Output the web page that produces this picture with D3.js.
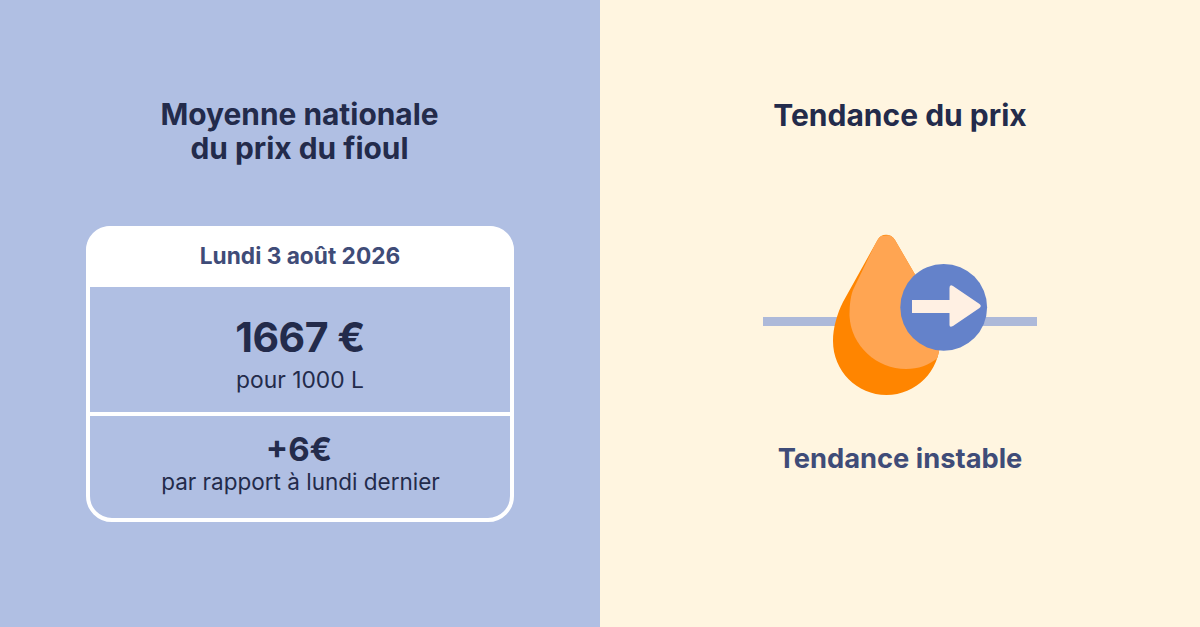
<!DOCTYPE html>
<html>
<head>
<meta charset="utf-8">
<script src="https://d3js.org/d3.v7.min.js"></script>
<style>
  html, body { margin: 0; padding: 0; overflow: hidden; }
  svg { display: block; }
  text { text-anchor: middle; }
</style>
</head>
<body>
<div id="chart"></div>
<script>
var titleLeft = ["Moyenne nationale", "du prix du fioul"];
var titleRight = ["Tendance du prix"];
var dateLabel = ["Lundi 3 août 2026"];
var priceValues = [1667];
var volumeValues = [1000];
var changeValues = [6];
var changeLabel = ["par rapport à lundi dernier"];
var trendLabel = ["Tendance instable"];

var width = 1200,
    height = 627;

var dark = "#232b4b", mid = "#3f4c78", blueBg = "#b0bfe3", creamBg = "#fff5e0";

var svg = d3.select("#chart")
    .append("svg")
    .attr("width", width)
    .attr("height", height);

// backgrounds
svg.append("rect").attr("width", 600).attr("height", height).attr("fill", blueBg);
svg.append("rect").attr("x", 600).attr("width", 600).attr("height", height).attr("fill", creamBg);

function label(x, y, str, size, weight, color) {
    return svg.append("text")
        .attr("x", x)
        .attr("y", y)
        .attr("font-family", "Inter, sans-serif")
        .attr("font-size", size)
        .attr("font-weight", weight)
        .attr("fill", color)
        .text(str);
}

// titles
titleLeft.forEach(function(d, i) {
    label(299.5, 125 + i * 34, d, 29.9, 700, dark);
});
label(900, 126, titleRight[0], 30, 700, dark);

// card
var card = svg.append("g");
card.append("rect")
    .attr("x", 88).attr("y", 228)
    .attr("width", 424).attr("height", 292)
    .attr("rx", 24)
    .attr("fill", "none")
    .attr("stroke", "#fff")
    .attr("stroke-width", 4);
card.append("path")
    .attr("d", "M86 287 V250 A24 24 0 0 1 110 226 H490 A24 24 0 0 1 514 250 V287 Z")
    .attr("fill", "#fff");
card.append("rect")
    .attr("x", 90).attr("y", 412)
    .attr("width", 420).attr("height", 4)
    .attr("fill", "#fff");

label(300, 264, dateLabel[0], 22.7, 700, mid);
label(300, 352, priceValues[0] + " €", 41, 700, dark).attr("letter-spacing", -0.5);
label(300, 388, "pour " + volumeValues[0] + " L", 22.8, 400, dark);
label(299, 461, d3.format("+d")(changeValues[0]) + "€", 33, 700, dark);
label(300.5, 490, changeLabel[0], 22.5, 400, dark);

// drop icon
var icon = svg.append("g");
icon.append("rect")
    .attr("x", 763).attr("y", 317)
    .attr("width", 274).attr("height", 9)
    .attr("fill", "#adb9d9");

var dropPath = "M877.5 240 C881 233 891 233 895 240 L931 302 C937 313 940 328 940 341 "
    + "C940 371 916 395 886.5 395 C857 395 833 371 833 341 C833 328 837 314 843 302 Z";

svg.append("defs").append("clipPath").attr("id", "drop-clip")
    .append("path").attr("d", dropPath);

icon.append("path").attr("d", dropPath).attr("fill", "#ff8500");
icon.append("path")
    .attr("clip-path", "url(#drop-clip)")
    .attr("d", "M879 236 L853 290 C850 298 849.5 308 849.5 316 C851 346 877 369 906 369 C920 369 931 365 945 352 L960 230 Z")
    .attr("fill", "#ffa552");

icon.append("circle")
    .attr("cx", 943.7).attr("cy", 307.3).attr("r", 43.4)
    .attr("fill", "#6482ca");
icon.append("path")
    .attr("d", "M912 300 H949.5 V288 Q949.5 284 953 286 L979.5 304 Q982 306 979.5 308 L953 326 Q949.5 328 949.5 325 V313 H912 Z")
    .attr("fill", "#fff0e3");

label(900, 468, trendLabel[0], 27.3, 700, mid);
</script>
</body>
</html>
